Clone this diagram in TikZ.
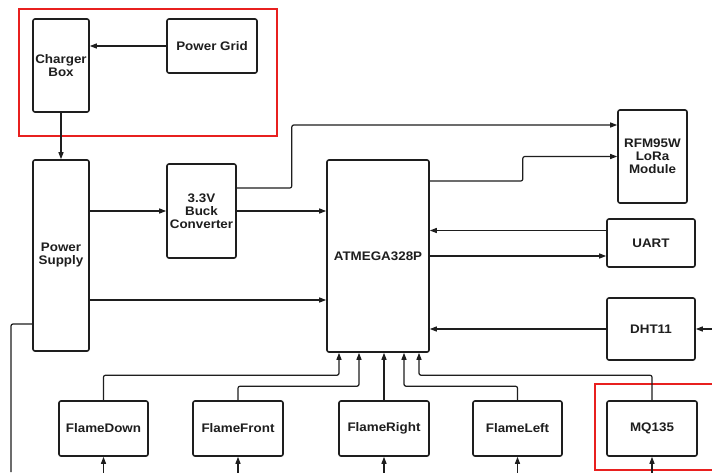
\documentclass[tikz,border=0pt]{standalone}
\usepackage{fontspec}
\setmainfont{Liberation Sans}[FakeStretch=1.08]
\usetikzlibrary{arrows.meta, positioning}
\definecolor{diagRed}{HTML}{E8201F}
\definecolor{diagInk}{HTML}{1E1E1E}

\begin{document}
\begin{tikzpicture}[
    x=1pt, y=-1pt,
    block/.style={rectangle, rounded corners=2pt, draw=diagInk, line width=1.6pt,
                  fill=white, align=center, inner sep=1pt,
                  font=\fontsize{12.4}{13}\selectfont\bfseries\color{diagInk}},
    arr/.style={draw=diagInk, line width=1.2pt, rounded corners=2pt,
                -{Triangle[length=7pt,width=5pt]}},
    wire/.style={draw=diagInk, line width=1.2pt, rounded corners=2pt},
    redbox/.style={draw=diagRed, line width=1.8pt},
  ]
    \useasboundingbox[fill=white] (0,0) rectangle (712,472);

    % highlighted groups
    \draw[redbox] (19,9) rectangle (277,136);
    \draw[redbox] (714,384) -- (595,384) -- (595,470) -- (714,470);

    % blocks
    \node[block, minimum width=56pt, minimum height=93pt] (charger) at (61,65.5) {Charger\\Box};
    \node[block, minimum width=90pt, minimum height=54pt] (grid) at (212,46) {Power Grid};
    \node[block, minimum width=56pt, minimum height=191pt] (supply) at (61,255.5) {Power\\Supply};
    \node[block, minimum width=69pt, minimum height=94pt] (buck) at (201.5,211) {3.3V\\Buck\\Converter};
    \node[block, minimum width=102pt, minimum height=192pt] (atmega) at (378,256) {ATMEGA328P};
    \node[block, minimum width=69pt, minimum height=93pt] (rfm) at (652.5,156.5) {RFM95W\\LoRa\\Module};
    \node[block, minimum width=88pt, minimum height=48pt] (uart) at (651,243) {UART};
    \node[block, minimum width=88pt, minimum height=62pt] (dht) at (651,329) {DHT11};
    \node[block, minimum width=89pt, minimum height=55pt] (fdown) at (103.5,428.5) {FlameDown};
    \node[block, minimum width=90pt, minimum height=55pt] (ffront) at (238,428.5) {FlameFront};
    \node[block, minimum width=90pt, minimum height=55pt] (fright) at (384,428.5) {FlameRight};
    \node[block, minimum width=89pt, minimum height=55pt] (fleft) at (517.5,428.5) {FlameLeft};
    \node[block, minimum width=90pt, minimum height=55pt] (mq) at (652,428.5) {MQ135};

    \coordinate (dhtin) at (712,329);
    \coordinate (pwrout) at (11,472);

    % power path
    \draw[arr] (grid.west) -- (grid.west -| charger.east);
    \draw[arr] (charger.south) -- (supply.north);
    \draw[arr] (supply.east |- buck.west) -- (buck.west);
    \draw[arr] (buck.east) -- (buck.east -| atmega.west);
    \draw[arr] ([yshift=-44.5pt]supply.east) -- ([yshift=-44.5pt]supply.east -| atmega.west);
    \draw[wire] ([yshift=-68.5pt]supply.west) -| (pwrout);

    % radio and serial
    \draw[arr] ([yshift=23pt]buck.east) -- ++(55,0) |- ([yshift=31.5pt]rfm.west);
    \draw[arr] ([yshift=75pt]atmega.east) -- ++(93,0) |- (rfm.west);
    \draw[arr] ([yshift=12.5pt]uart.west) -- ([yshift=12.5pt]uart.west -| atmega.east);
    \draw[arr] ([yshift=-13pt]uart.west -| atmega.east) -- ([yshift=-13pt]uart.west);
    \draw[arr] (dht.west) -- (dht.west -| atmega.east);
    \draw[arr] (dhtin) -- (dht.east);

    % sensors into the controller
    \draw[arr] (fdown.north) -- ++(0,-25) -| ([xshift=-39pt]atmega.south);
    \draw[arr] (ffront.north) -- ++(0,-14) -| ([xshift=-19pt]atmega.south);
    \draw[arr] (fright.north) -- (fright.north |- atmega.south);
    \draw[arr] (fleft.north) -- ++(0,-14) -| ([xshift=26pt]atmega.south);
    \draw[arr] (mq.north) -- ++(0,-25) -| ([xshift=41pt]atmega.south);

    \foreach \s in {fdown,ffront,fright,fleft,mq}{
      \draw[arr] (\s.south) ++(0,16) -- (\s.south);
    }
  \end{tikzpicture}
\end{document}
